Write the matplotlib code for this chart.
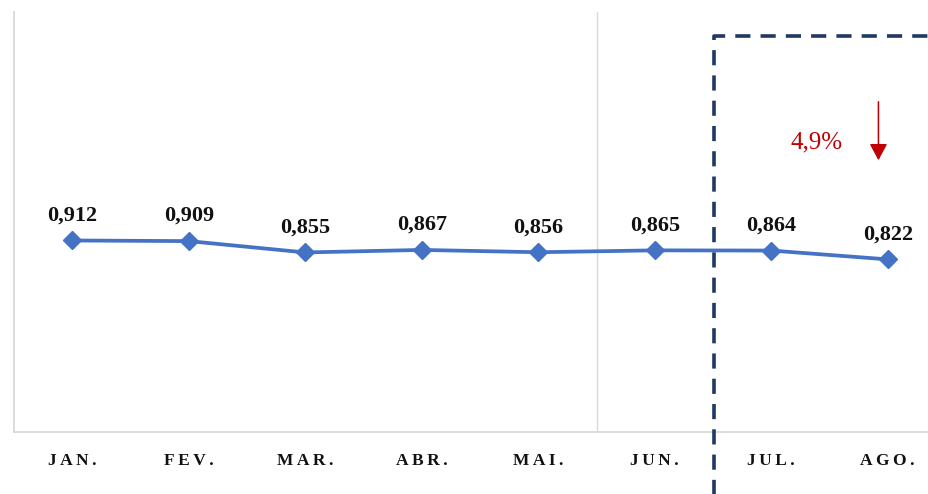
import matplotlib
matplotlib.use("Agg")
import matplotlib.pyplot as plt
from matplotlib.patches import FancyArrowPatch

months = ["JAN.", "FEV.", "MAR.", "ABR.", "MAI.", "JUN.", "JUL.", "AGO."]
values = [0.912, 0.909, 0.855, 0.867, 0.856, 0.865, 0.864, 0.822]
value_labels = ["0,912", "0,909", "0,855", "0,867", "0,856", "0,865", "0,864", "0,822"]
change_label = "4,9%"

SERIF = ["Liberation Serif", "DejaVu Serif", "serif"]

W, H = 929, 494
fig = plt.figure(figsize=(W / 100, H / 100), dpi=100)
ax = fig.add_axes([14 / W, (H - 432) / H, 932 / W, 420 / H])

x = list(range(len(months)))
ax.plot(x, values, color="#4472C4", lw=2.7, marker="D", ms=9.5,
        markerfacecolor="#4472C4", markeredgecolor="#4472C4", zorder=3)

for xi, v, lab in zip(x, values, value_labels):
    ax.annotate(lab, (xi, v), xytext=(0, 14.5), textcoords="offset points",
                ha="center", va="baseline", family=SERIF, fontsize=16,
                fontweight="bold", color="#111111")

ax.set_xlim(-0.5, 7.5)
ax.set_ylim(0, 2)
ax.set_yticks([])
ax.set_xticks(x)
spaced = ["\u2009".join(list(m)) for m in months]
ax.set_xticklabels(spaced, color="#111111", family=SERIF, fontsize=12.5,
                   fontweight="bold")
ax.tick_params(axis="x", length=0, pad=15)

for s in ["top", "right"]:
    ax.spines[s].set_visible(False)
ax.spines["left"].set_color("#D9D9D9")
ax.spines["left"].set_linewidth(1.3)
ax.spines["bottom"].set_color("#D9D9D9")
ax.spines["bottom"].set_linewidth(1.3)

ax.axvline(4.5, color="#D9D9D9", lw=1.0, zorder=1)

# dashed highlight box
ax.plot([5.51, 5.51, 7.7], [-0.45, 1.886, 1.886], color="#1F3864", lw=2.6,
        linestyle=(0, (4.2, 2.8)), clip_on=False, zorder=4)

# change annotation
arr = FancyArrowPatch((6.92, 1.586), (6.92, 1.281),
                      arrowstyle="-|>,head_length=0.5,head_width=0.27",
                      mutation_scale=20, color="#C00000", lw=1.1, zorder=5)
ax.add_patch(arr)
ax.text(6.39, 1.381, change_label, ha="center", va="center", family=SERIF,
        fontsize=18, color="#C00000")

fig.savefig("out.png", dpi=100)
